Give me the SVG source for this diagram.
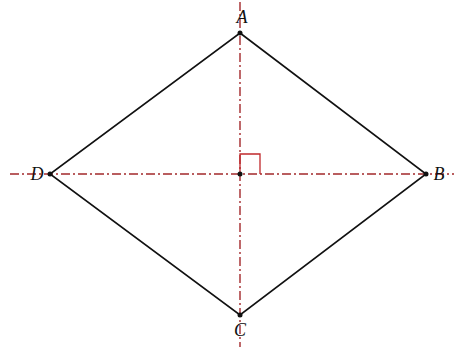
<svg xmlns="http://www.w3.org/2000/svg" width="456" height="349" viewBox="0 0 456 349">
<style>
.axis{stroke:#a3282b;stroke-width:1.4;stroke-dasharray:9 3 2 3;fill:none}
.side{stroke:#111;stroke-width:1.6;fill:none}
.lbl{font-family:"Liberation Serif",serif;font-style:italic;font-size:18px;fill:#111;text-anchor:middle}
</style>
<rect width="456" height="349" fill="#fff"/>
<g id="connectors">
<line class="axis" x1="240" y1="2" x2="240" y2="347"/>
<line class="axis" x1="10" y1="174" x2="454" y2="174"/>
<polyline points="240,174 240,154 260,154 260,174" fill="none" stroke="#c0282b" stroke-width="1.3"/>
<polygon class="side" points="240,33 426,174 240,315 50,174"/>
</g>
<g id="center"><circle cx="240" cy="174" r="2.5" fill="#111"/></g>
<g id="A"><circle cx="240" cy="33" r="2.5" fill="#111"/><text class="lbl" x="242" y="23">A</text></g>
<g id="B"><circle cx="426" cy="174" r="2.5" fill="#111"/><text class="lbl" x="439" y="180">B</text></g>
<g id="C"><circle cx="240" cy="315" r="2.5" fill="#111"/><text class="lbl" x="240" y="336">C</text></g>
<g id="D"><circle cx="50" cy="174" r="2.5" fill="#111"/><text class="lbl" x="37" y="180">D</text></g>
</svg>
